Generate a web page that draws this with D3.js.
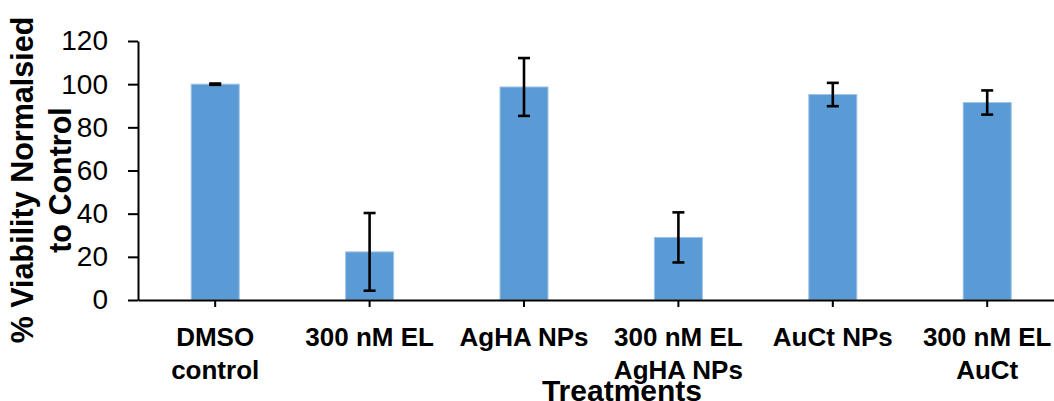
<!DOCTYPE html>
<html>
<head>
<meta charset="utf-8">
<script src="https://cdn.jsdelivr.net/npm/d3@7"></script>
<style>
  html, body { margin: 0; padding: 0; background: #fff; }
  svg { display: block; }
  text { font-family: "Liberation Sans", Arial, sans-serif; fill: #000; }
</style>
</head>
<body>
<svg id="chart" width="1054" height="401"></svg>
<script>
// Treatments and their label lines
const categories = ["DMSO control", "300 nM EL", "AgHA NPs", "300 nM EL AgHA NPs", "AuCt NPs", "300 nM EL AuCt"];
const labelLines = [["DMSO", "control"], ["300 nM EL"], ["AgHA NPs"], ["300 nM EL", "AgHA NPs"], ["AuCt NPs"], ["300 nM EL", "AuCt"]];
// Mean viability (% of control) and error (±)
const viability = [100, 22.3, 98.7, 29.0, 95.2, 91.5];
const errors = [0.3, 18.0, 13.4, 11.6, 5.4, 5.6];
const yTicks = [0, 20, 40, 60, 80, 100, 120];

const svg = d3.select("#chart");

const x = d3.scaleBand()
  .domain(categories)
  .range([138, 1064.4])
  .paddingInner(0.689)
  .paddingOuter(0.3445);

const y = d3.scaleLinear().domain([0, 120]).range([300, 41]);

const data = categories.map((c, i) => ({ cat: c, v: viability[i], e: errors[i], lines: labelLines[i] }));

// Bars
svg.append("g")
  .selectAll("rect")
  .data(data)
  .join("rect")
  .attr("x", d => x(d.cat))
  .attr("y", d => y(d.v))
  .attr("width", x.bandwidth())
  .attr("height", d => y(0) - y(d.v))
  .attr("fill", "#5b9bd5")
  .attr("stroke", "#9fc3e8")
  .attr("stroke-width", 1);

// Error bars
const eb = svg.append("g")
  .attr("stroke", "#000")
  .attr("stroke-width", 2.6)
  .attr("fill", "none");
const capHalf = 6;
data.forEach(d => {
  const cx = x(d.cat) + x.bandwidth() / 2;
  const top = y(d.v + d.e), bot = y(d.v - d.e);
  eb.append("line").attr("x1", cx).attr("x2", cx).attr("y1", top).attr("y2", bot);
  eb.append("line").attr("x1", cx - capHalf).attr("x2", cx + capHalf).attr("y1", top).attr("y2", top);
  eb.append("line").attr("x1", cx - capHalf).attr("x2", cx + capHalf).attr("y1", bot).attr("y2", bot);
});

// Y axis
const yAxis = svg.append("g")
  .attr("transform", "translate(138,0)")
  .call(d3.axisLeft(y).tickValues(yTicks).tickSize(10).tickPadding(20).tickSizeOuter(0));
yAxis.select(".domain").attr("stroke-width", 2);
yAxis.selectAll(".tick line").attr("stroke-width", 2);
yAxis.selectAll(".tick text")
  .attr("font-size", 28)
  .attr("font-family", "'Liberation Sans', Arial, sans-serif");

// X axis
const xAxis = svg.append("g")
  .attr("transform", "translate(0,300)")
  .call(d3.axisBottom(x).tickSize(7).tickSizeOuter(0).tickFormat(() => ""));
xAxis.select(".domain").attr("stroke-width", 2);
xAxis.selectAll(".tick line").attr("stroke-width", 2);

// Category labels (multi-line)
const lbl = svg.append("g")
  .attr("font-size", 26)
  .attr("font-weight", "bold")
  .attr("text-anchor", "middle");
data.forEach(d => {
  const t = lbl.append("text")
    .attr("x", x(d.cat) + x.bandwidth() / 2)
    .attr("y", 346);
  d.lines.forEach((line, j) => {
    t.append("tspan")
      .attr("x", x(d.cat) + x.bandwidth() / 2)
      .attr("dy", j === 0 ? 0 : 33)
      .text(line);
  });
});

// Axis titles
svg.append("text")
  .attr("x", 622)
  .attr("y", 401)
  .attr("text-anchor", "middle")
  .attr("font-size", 30)
  .attr("font-weight", "bold")
  .text("Treatments");

const yTitle = ["% Viability Normalsied", "to Control"];
const yTitleX = [33, 71];
yTitle.forEach((line, i) => {
  svg.append("text")
    .attr("transform", `translate(${yTitleX[i]},180) rotate(-90)`)
    .attr("text-anchor", "middle")
    .attr("font-size", 30.5)
    .attr("font-weight", "bold")
    .text(line);
});
</script>
</body>
</html>
